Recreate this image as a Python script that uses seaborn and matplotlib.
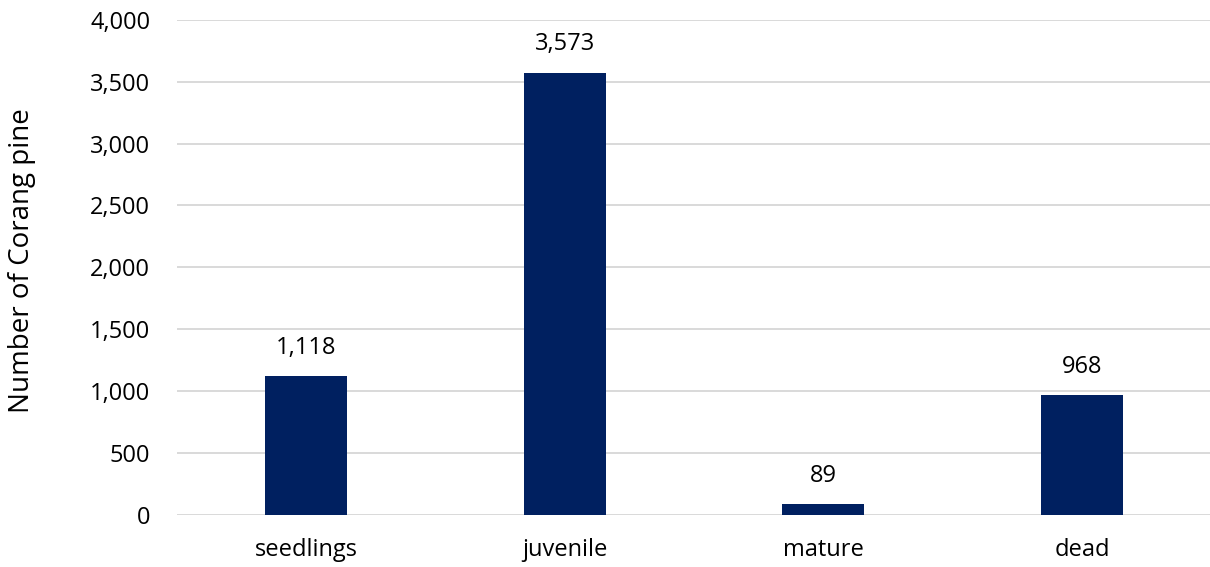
import matplotlib
matplotlib.use("Agg")
import matplotlib.pyplot as plt
import seaborn as sns
import pandas as pd
from matplotlib.ticker import FuncFormatter

# data
stages = ["seedlings", "juvenile", "mature", "dead"]
counts = [1118, 3573, 89, 968]

sns.set_theme(style="white")
plt.rcParams["font.family"] = ["Open Sans", "DejaVu Sans"]
plt.rcParams["text.color"] = "black"

df = pd.DataFrame({"stage": stages, "count": counts})

fig = plt.figure(figsize=(12.1, 5.67), dpi=100)
ax = fig.add_axes([0.146, 0.092, 0.855, 0.873])

sns.barplot(data=df, x="stage", y="count", color="#002060", width=0.317,
            saturation=1, ax=ax, zorder=3, linewidth=0)

ax.set_ylim(0, 4000)
ax.set_yticks(range(0, 4001, 500))
ax.yaxis.set_major_formatter(FuncFormatter(lambda v, p: f"{int(v):,}"))
ax.grid(axis="y", color="#d9d9d9", linewidth=1.4, zorder=0)
for s in ax.spines.values():
    s.set_visible(False)
ax.tick_params(axis="both", length=0, labelsize=17, colors="black")
ax.tick_params(axis="y", pad=19)
ax.tick_params(axis="x", pad=17)
ax.set_xlabel("")
ax.set_ylabel("Number of Corang pine", fontsize=20, color="black")
ax.yaxis.set_label_coords(-0.136, 0.513)

for i, v in enumerate(counts):
    ax.annotate(f"{v:,}", (i, v), xytext=(0, 16), textcoords="offset points",
                ha="center", va="baseline", fontsize=17, color="black")

fig.savefig("out.png", dpi=100)
